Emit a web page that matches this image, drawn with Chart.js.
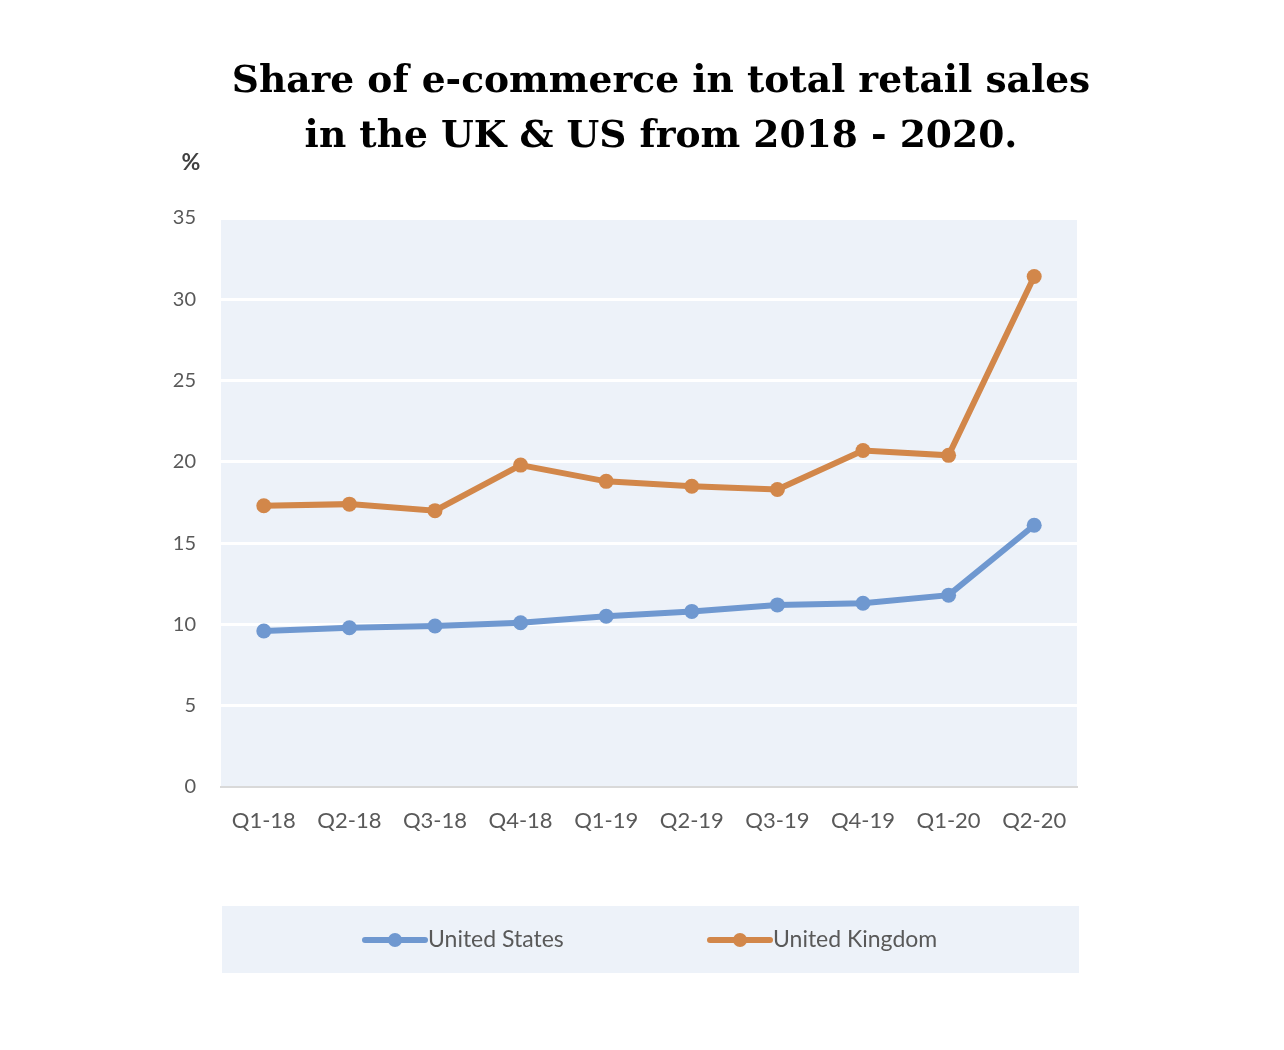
<!DOCTYPE html>
<html>
<head>
<meta charset="utf-8">
<script src="https://cdn.jsdelivr.net/npm/chart.js@4"></script>
<style>
  html, body { margin: 0; padding: 0; background: #ffffff; }
  #wrap { width: 1284px; height: 1050px; position: relative; }
</style>
</head>
<body>
<div id="wrap"><canvas id="c" width="1284" height="1050"></canvas></div>
<script>
const titleLines = ['Share of e-commerce in total retail sales', 'in the UK & US from 2018 - 2020.'];
const unitLabel = '%';
const categories = ['Q1-18', 'Q2-18', 'Q3-18', 'Q4-18', 'Q1-19', 'Q2-19', 'Q3-19', 'Q4-19', 'Q1-20', 'Q2-20'];
const usValues = [9.6, 9.8, 9.9, 10.1, 10.5, 10.8, 11.2, 11.3, 11.8, 16.1];
const ukValues = [17.3, 17.4, 17.0, 19.8, 18.8, 18.5, 18.3, 20.7, 20.4, 31.4];
const seriesNames = ['United States', 'United Kingdom'];
const yTicks = [0, 5, 10, 15, 20, 25, 30, 35];

const US_COLOR = '#6F98D0';
const UK_COLOR = '#D2874A';
const PLOT_BG = '#EDF2F9';
const TICK_COLOR = '#595959';
const TICK_FONT = 'Lato, "Open Sans", sans-serif';

const decorPlugin = {
  id: 'decor',
  beforeDraw(chart) {
    const { ctx, chartArea } = chart;
    ctx.save();
    ctx.fillStyle = '#ffffff';
    ctx.fillRect(0, 0, chart.width, chart.height);
    ctx.fillStyle = PLOT_BG;
    ctx.fillRect(chartArea.left, chartArea.top, chartArea.right - chartArea.left, chartArea.bottom - chartArea.top);
    ctx.restore();
  },
  afterDraw(chart) {
    const { ctx, chartArea } = chart;
    ctx.save();
    // title
    ctx.fillStyle = '#000000';
    ctx.font = 'bold 37.6px "DejaVu Serif", "Liberation Serif", serif';
    ctx.textAlign = 'center';
    ctx.textBaseline = 'middle';
    ctx.fillText(titleLines[0], 661, 82);
    ctx.fillText(titleLines[1], 661, 137);
    // unit label
    ctx.fillStyle = '#404040';
    ctx.font = 'bold 23px ' + TICK_FONT;
    ctx.fillText(unitLabel, 191, 163);
    // legend box
    const lx = chartArea.left + 1, lw = chartArea.right - chartArea.left + 1;
    ctx.fillStyle = PLOT_BG;
    ctx.fillRect(lx, 906, lw, 67);
    const items = [
      { x: 365, color: US_COLOR, text: chart.data.datasets[0].label },
      { x: 710, color: UK_COLOR, text: chart.data.datasets[1].label }
    ];
    const ly = 940;
    items.forEach(it => {
      ctx.strokeStyle = it.color;
      ctx.lineWidth = 6;
      ctx.lineCap = 'round';
      ctx.beginPath();
      ctx.moveTo(it.x, ly);
      ctx.lineTo(it.x + 60, ly);
      ctx.stroke();
      ctx.fillStyle = it.color;
      ctx.beginPath();
      ctx.arc(it.x + 30, ly, 7, 0, Math.PI * 2);
      ctx.fill();
      ctx.fillStyle = TICK_COLOR;
      ctx.font = '23px ' + TICK_FONT;
      ctx.textAlign = 'left';
      ctx.textBaseline = 'middle';
      ctx.fillText(it.text, it.x + 63, ly);
    });
    ctx.restore();
  }
};

new Chart(document.getElementById('c'), {
  type: 'line',
  data: {
    labels: categories,
    datasets: [
      {
        label: seriesNames[0],
        data: usValues,
        borderColor: US_COLOR,
        backgroundColor: US_COLOR,
        borderWidth: 6,
        pointRadius: 7.5,
        pointHoverRadius: 7.5,
        pointBorderWidth: 0,
        tension: 0
      },
      {
        label: seriesNames[1],
        data: ukValues,
        borderColor: UK_COLOR,
        backgroundColor: UK_COLOR,
        borderWidth: 6,
        pointRadius: 7.5,
        pointHoverRadius: 7.5,
        pointBorderWidth: 0,
        tension: 0
      }
    ]
  },
  options: {
    responsive: false,
    animation: false,
    devicePixelRatio: 1,
    layout: { padding: { top: 218, right: 207, bottom: 0, left: 0 } },
    plugins: {
      legend: { display: false },
      title: { display: false },
      tooltip: { enabled: false }
    },
    scales: {
      x: {
        offset: true,
        grid: { display: false, drawTicks: false },
        border: { display: true, color: '#D9D9D9', width: 2 },
        ticks: { color: TICK_COLOR, font: { family: TICK_FONT, size: 22 }, padding: 21, maxRotation: 0, autoSkip: false },
        afterFit(scale) { scale.height = 1050 - 787; }
      },
      y: {
        min: 0,
        max: 35,
        afterBuildTicks(scale) { scale.ticks = yTicks.map(v => ({ value: v })); },
        grid: { color: '#ffffff', lineWidth: 3, drawTicks: false },
        border: { display: false },
        ticks: { color: TICK_COLOR, font: { family: TICK_FONT, size: 20 }, padding: 25 },
        afterFit(scale) { scale.width = 221; }
      }
    }
  },
  plugins: [decorPlugin]
});
</script>
</body>
</html>
